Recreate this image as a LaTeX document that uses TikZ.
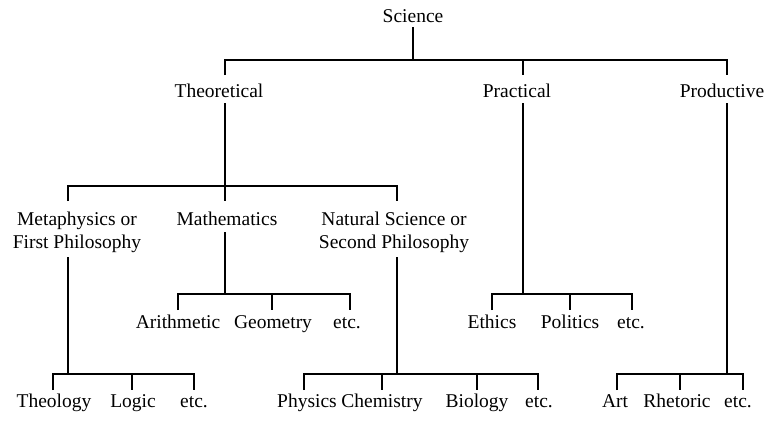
\documentclass[tikz,border=0pt]{standalone}
\usepackage{fontspec}
\setmainfont{Liberation Serif}
\begin{document}
\begin{tikzpicture}[x=1pt,y=-1pt,line width=1.1pt,
  lbl/.style={font=\fontsize{19.5}{23}\selectfont, inner sep=0pt, anchor=base},
  ml/.style={font=\fontsize{19.5}{23}\selectfont, inner sep=0pt, anchor=north, align=center}]
\useasboundingbox (0,0) rectangle (765,421);
% labels
\node[lbl] (sci) at (413,22) {Science};
\node[lbl] (theo) at (219,97) {Theoretical};
\node[lbl] (prac) at (517,97) {Practical};
\node[lbl] (prod) at (722,97) {Productive};
\node[ml] (meta) at (77,211.5) {Metaphysics or\\First Philosophy};
\node[lbl] (math) at (227,225) {Mathematics};
\node[ml] (nat) at (394,211.5) {Natural Science or\\Second Philosophy};
\node[lbl] (arith) at (178,328) {Arithmetic};
\node[lbl] (geom) at (273,328) {Geometry};
\node[lbl] (etcA) at (347,328) {etc.};
\node[lbl] (eth) at (492,328) {Ethics};
\node[lbl] (pol) at (570,328) {Politics};
\node[lbl] (etcB) at (631,328) {etc.};
\node[lbl] (theol) at (54,407) {Theology};
\node[lbl] (logic) at (133,407) {Logic};
\node[lbl] (etcC) at (194,407) {etc.};
\node[lbl] (phys) at (307,407) {Physics};
\node[lbl] (chem) at (382,407) {Chemistry};
\node[lbl] (bio) at (477,407) {Biology};
\node[lbl] (etcD) at (539,407) {etc.};
\node[lbl] (art) at (615,407) {Art};
\node[lbl] (rhet) at (677,407) {Rhetoric};
\node[lbl] (etcE) at (738,407) {etc.};
% connector points
\coordinate (sci-dn) at (413,27);  \coordinate (sci-j) at (413,60);
\coordinate (theo-up) at (225,75); \coordinate (prac-up) at (523,75); \coordinate (prod-up) at (727,75);
\coordinate (theo-dn) at (225,103); \coordinate (theo-j) at (225,186);
\coordinate (prac-dn) at (523,103); \coordinate (prac-j) at (523,294);
\coordinate (prod-dn) at (727,103); \coordinate (prod-j) at (727,374);
\coordinate (meta-up) at (68,201); \coordinate (math-up) at (225,201); \coordinate (nat-up) at (397,201);
\coordinate (meta-dn) at (68,257); \coordinate (meta-j) at (68,374);
\coordinate (math-dn) at (225,232); \coordinate (math-j) at (225,294);
\coordinate (nat-dn) at (397,257); \coordinate (nat-j) at (397,374);
\coordinate (arith-up) at (178,310); \coordinate (geom-up) at (272,310); \coordinate (etcA-up) at (350,310);
\coordinate (eth-up) at (492,310); \coordinate (pol-up) at (570,310); \coordinate (etcB-up) at (632,310);
\coordinate (theol-up) at (53,390); \coordinate (logic-up) at (132,390); \coordinate (etcC-up) at (194,390);
\coordinate (phys-up) at (304,390); \coordinate (chem-up) at (382,390); \coordinate (bio-up) at (477,390); \coordinate (etcD-up) at (538,390);
\coordinate (art-up) at (617,390); \coordinate (rhet-up) at (680,390); \coordinate (etcE-up) at (743,390);
% Science
\draw (sci-dn) -- (sci-j);
\draw (theo-up) -- (theo-up |- sci-j) -- (prod-up |- sci-j) -- (prod-up);
\draw (prac-up |- sci-j) -- (prac-up);
% Theoretical
\draw (theo-dn) -- (theo-j);
\draw (meta-up) -- (meta-up |- theo-j) -- (nat-up |- theo-j) -- (nat-up);
\draw (math-up |- theo-j) -- (math-up);
% Mathematics
\draw (math-dn) -- (math-j);
\draw (arith-up) -- (arith-up |- math-j) -- (etcA-up |- math-j) -- (etcA-up);
\draw (geom-up |- math-j) -- (geom-up);
% Practical
\draw (prac-dn) -- (prac-j);
\draw (eth-up) -- (eth-up |- prac-j) -- (etcB-up |- prac-j) -- (etcB-up);
\draw (pol-up |- prac-j) -- (pol-up);
% Metaphysics
\draw (meta-dn) -- (meta-j);
\draw (theol-up) -- (theol-up |- meta-j) -- (etcC-up |- meta-j) -- (etcC-up);
\draw (logic-up |- meta-j) -- (logic-up);
% Natural Science
\draw (nat-dn) -- (nat-j);
\draw (phys-up) -- (phys-up |- nat-j) -- (etcD-up |- nat-j) -- (etcD-up);
\draw (chem-up |- nat-j) -- (chem-up);
\draw (bio-up |- nat-j) -- (bio-up);
% Productive
\draw (prod-dn) -- (prod-j);
\draw (art-up) -- (art-up |- prod-j) -- (etcE-up |- prod-j) -- (etcE-up);
\draw (rhet-up |- prod-j) -- (rhet-up);
\end{tikzpicture}
\end{document}
